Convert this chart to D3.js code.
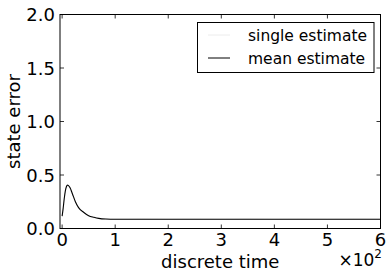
<!DOCTYPE html>
<html><head><meta charset="utf-8">
<script src="https://cdn.jsdelivr.net/npm/d3@7"></script>
<style>body{margin:0;background:#fff}svg{display:block}text{font-family:"DejaVu Sans",sans-serif}</style>
</head><body><svg id="c" width="391" height="277"></svg>
<script>
const times = [0,2,4,6,8,10,12,15,19,25,31,41,50,60,69,82,100,150,200,250,300,350,400,450,500,550,600];
const meanEst = [0.115,0.19,0.28,0.35,0.39,0.405,0.4,0.38,0.33,0.25,0.195,0.15,0.12,0.105,0.095,0.089,0.087,0.087,0.087,0.087,0.087,0.087,0.087,0.087,0.087,0.087,0.087];
const singleEst = [0.11,0.18,0.27,0.34,0.38,0.4,0.4,0.37,0.32,0.25,0.19,0.15,0.12,0.1,0.094,0.09,0.086,0.089,0.085,0.088,0.086,0.089,0.085,0.088,0.086,0.088,0.087];
const xTicks = [0,100,200,300,400,500,600];
const xTickLabels = ["0","1","2","3","4","5","6"];
const yTicks = [0,0.5,1.0,1.5,2.0];
const yTickLabels = ["0.0","0.5","1.0","1.5","2.0"];
const seriesNames = ["single estimate","mean estimate"];

const svg = d3.select("#c");
const L=60,R=380.5,T=14.5,B=228.5;
const x = d3.scaleLinear().domain([-4,600]).range([L,R]);
const y = d3.scaleLinear().domain([0,2]).range([B,T]);

const line = d3.line().x((d,i)=>x(times[i])).y(d=>y(d)).curve(d3.curveMonotoneX);
svg.append("path").datum(singleEst).attr("d",line).attr("fill","none").attr("stroke","#ececec").attr("stroke-width",1);
svg.append("path").datum(meanEst).attr("d",line).attr("fill","none").attr("stroke","#000").attr("stroke-width",1.1);

const FS = 18;
const g = svg.append("g");
xTicks.forEach((t,i)=>{
  const px = x(t);
  g.append("line").attr("x1",px).attr("x2",px).attr("y1",B).attr("y2",B-4).attr("stroke","#000").attr("stroke-width",0.8);
  g.append("line").attr("x1",px).attr("x2",px).attr("y1",T).attr("y2",T+4).attr("stroke","#000").attr("stroke-width",0.8);
  g.append("text").attr("x",px).attr("y",246).attr("text-anchor","middle").attr("font-size",FS).text(xTickLabels[i]);
});
yTicks.forEach((t,i)=>{
  const py = y(t);
  g.append("line").attr("x1",L).attr("x2",L+4).attr("y1",py).attr("y2",py).attr("stroke","#000").attr("stroke-width",0.8);
  g.append("line").attr("x1",R).attr("x2",R-4).attr("y1",py).attr("y2",py).attr("stroke","#000").attr("stroke-width",0.8);
  g.append("text").attr("x",55).attr("y",py+6.5).attr("text-anchor","end").attr("font-size",FS).text(yTickLabels[i]);
});
svg.append("rect").attr("x",L).attr("y",T).attr("width",R-L).attr("height",B-T).attr("fill","none").attr("stroke","#000").attr("stroke-width",1);

svg.append("text").attr("x",(L+R)/2).attr("y",268).attr("text-anchor","middle").attr("font-size",FS).text("discrete time");
svg.append("text").attr("transform","translate(20,"+((T+B)/2)+") rotate(-90)").attr("text-anchor","middle").attr("font-size",FS).text("state error");
const mult = svg.append("text").attr("x",382).attr("y",266).attr("text-anchor","end").attr("font-size",17);
mult.append("tspan").text("×10");
mult.append("tspan").attr("dy",-8).attr("font-size",12).text("2");

const lg = svg.append("g");
lg.append("rect").attr("x",197.5).attr("y",22.5).attr("width",176.5).attr("height",50).attr("fill","#fff").attr("stroke","#000").attr("stroke-width",1);
const cols=["#ececec","#000"];
seriesNames.forEach((n,i)=>{
  const yy = 35 + i*23;
  lg.append("line").attr("x1",208).attr("x2",230).attr("y1",yy).attr("y2",yy).attr("stroke",cols[i]).attr("stroke-width",1);
  lg.append("text").attr("x",248).attr("y",yy+5.5).attr("font-size",15.5).text(n);
});
</script></body></html>
